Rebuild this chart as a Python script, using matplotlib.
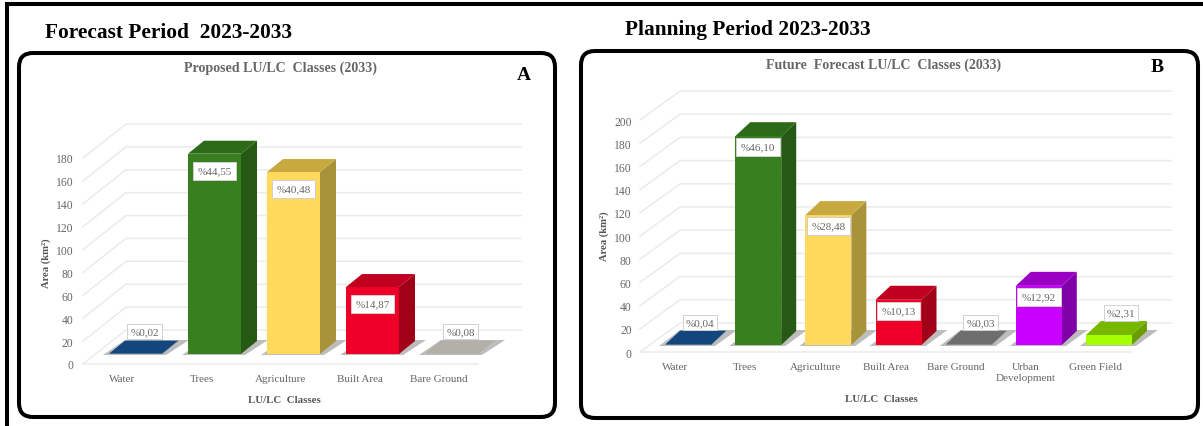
import matplotlib
matplotlib.use('Agg')
import matplotlib.pyplot as plt
from matplotlib.patches import FancyBboxPatch, Polygon

plt.rcParams['font.family'] = ['Liberation Serif', 'DejaVu Serif']

W, H = 1203, 427

# chart A
a_classes = ['Water', 'Trees', 'Agriculture', 'Built Area', 'Bare Ground']
a_area = [0.3, 175, 159, 58.5, 0.4]
a_share = ['%0,02', '%44,55', '%40,48', '%14,87', '%0,08']
a_ticks = [0, 20, 40, 60, 80, 100, 120, 140, 160, 180]

# chart B
b_classes = ['Water', 'Trees', 'Agriculture', 'Built Area', 'Bare Ground',
             'Urban\nDevelopment', 'Green Field']
b_area = [0.3, 180, 112, 39, 0.3, 51, 8.6]
b_share = ['%0,04', '%46,10', '%28,48', '%10,13', '%0,03', '%12,92', '%2,31']
b_ticks = [0, 20, 40, 60, 80, 100, 120, 140, 160, 180, 200]

# (front, top, side)
BLUE = ('#174c86', '#14467e', '#103a68')
GREEN = ('#38801f', '#2c6a18', '#265a14')
YELLOW = ('#ffd95c', '#c8a93f', '#a8933b')
RED = ('#ee0028', '#c0001f', '#a00018')
LIGHT_GREY = ('#b8b5ae', '#b3b0a8', '#a09d96')
DARK_GREY = ('#7a7a7a', '#6e6e6e', '#5c5c5c')
PURPLE = ('#c800ff', '#9a00c4', '#8000a8')
LIME = ('#a6ff00', '#76b800', '#6a9e00')
a_colors = [BLUE, GREEN, YELLOW, RED, LIGHT_GREY]
b_colors = [BLUE, GREEN, YELLOW, RED, DARK_GREY, PURPLE, LIME]


def px_axes(fig, x0, x1, y_bottom, y_top):
    return fig.add_axes([x0 / W, 1 - y_bottom / H, (x1 - x0) / W, (y_bottom - y_top) / H])


def draw_chart(fig, box, classes, area, share, colors, ticks, geo):
    x0, x1, y0, ytop = box
    ax = px_axes(fig, x0, x1, y0, ytop)
    ax.set_xlim(-0.5, len(classes) - 0.5)
    ax.set_ylim(0, ticks[-1])
    ax.patch.set_alpha(0)
    for s in ax.spines.values():
        s.set_visible(False)

    # pixel -> data sizes
    ux = len(classes) / (x1 - x0)
    uy = ticks[-1] / (y0 - ytop)

    wall_x, wall_y = geo['wall'][0] * ux, geo['wall'][1] * uy
    for t in ticks:
        ax.plot([-0.5, -0.5 + wall_x, len(classes) - 0.5 + wall_x],
                [t, t + wall_y, t + wall_y], color='#ebebeb', lw=1.1,
                clip_on=False, zorder=1)
    ax.plot([-0.5, len(classes) - 0.5], [0, 0], color='#ebebeb', lw=1.1,
            clip_on=False, zorder=1)

    sx, lift = geo['shift'][0] * ux, geo['shift'][1] * uy
    hw = geo['bar'] / 2 * ux
    dx, dy = geo['depth'][0] * ux, geo['depth'][1] * uy
    centers = [i + sx for i in range(len(classes))]

    for c, v, col, lab in zip(centers, area, colors, share):
        top = lift + v
        # floor shadow
        ax.add_patch(Polygon([(c - hw - 6 * ux, lift - 1 * uy), (c + hw + 4 * ux, lift - 1 * uy),
                              (c + hw + dx + 11 * ux, lift + dy + 1 * uy),
                              (c - hw + dx, lift + dy + 1 * uy)],
                             fc='#adadad', ec='none', alpha=0.8, clip_on=False, zorder=2))
        ax.bar(c, v, width=2 * hw, bottom=lift, color=col[0], zorder=4, clip_on=False)
        ax.add_patch(Polygon([(c - hw, top), (c + hw, top), (c + hw + dx, top + dy),
                              (c - hw + dx, top + dy)], fc=col[1], ec='none',
                             clip_on=False, zorder=4))
        ax.add_patch(Polygon([(c + hw, lift), (c + hw + dx, lift + dy), (c + hw + dx, top + dy),
                              (c + hw, top)], fc=col[2], ec='none', clip_on=False, zorder=3))
        if v > 20:
            lx, ly = c, top - geo['inside'] * uy
        else:
            lx, ly = c + geo['flat'] * ux, top + 22 * uy
        pad = 0.42 if v > 20 else 0.28
        ax.text(lx, ly, lab, ha='center', va='center', fontsize=8, color='#666666',
                zorder=6, bbox=dict(boxstyle='square,pad=%s' % pad, fc='white',
                                    ec='#d0d0d0', lw=0.7))

    ax.set_xticks(range(len(classes)))
    ax.set_xticklabels(classes, fontsize=8, color='#666666', linespacing=1.3)
    ax.set_yticks(ticks)
    ax.set_yticklabels([str(t) for t in ticks], fontsize=8.4, color='#666666')
    ax.tick_params(length=0, pad=geo['pad'])
    ax.tick_params(axis='x', pad=geo['xpad'])
    return ax


fig = plt.figure(figsize=(W / 100, H / 100), dpi=100, facecolor='white')

# frames and headings live in a full figure axes, in image pixels
bg = fig.add_axes([0, 0, 1, 1])
bg.set_xlim(0, W)
bg.set_ylim(H, 0)
bg.axis('off')
bg.plot([7, 7, W + 2], [H + 2, 5, 5], color='black', lw=2.9, solid_joinstyle='miter')
for (x0, y0, x1, y1) in [(19, 54, 555, 418), (581, 52, 1198, 419)]:
    bg.add_patch(FancyBboxPatch((x0 + 14, y0 + 14), x1 - x0 - 28, y1 - y0 - 28,
                                boxstyle='round,pad=14,rounding_size=14',
                                fc='white', ec='black', lw=2.9))

bg.text(45, 33, 'Forecast Period  2023-2033', fontsize=15.4, fontweight='bold', va='center')
bg.text(625, 30, 'Planning Period 2023-2033', fontsize=15.4, fontweight='bold', va='center')
bg.text(281, 68, 'Proposed LU/LC  Classes (2033)', fontsize=10.1, fontweight='bold',
        color='#666666', ha='center', va='center')
bg.text(884, 65, 'Future  Forecast LU/LC  Classes (2033)', fontsize=10, fontweight='bold',
        color='#666666', ha='center', va='center')
bg.text(524, 76, 'A', fontsize=14, fontweight='bold', ha='center', va='center')
bg.text(1157, 67, 'B', fontsize=14, fontweight='bold', ha='center', va='center')
bg.text(46, 263, 'Area (km²)', fontsize=7.7, fontweight='bold', color='#555555',
        rotation=90, ha='center', va='center')
bg.text(604, 236, 'Area (km²)', fontsize=7.7, fontweight='bold', color='#555555',
        rotation=90, ha='center', va='center')
bg.text(284, 401, 'LU/LC  Classes', fontsize=7.8, fontweight='bold', color='#555555',
        ha='center', va='center')
bg.text(881, 400, 'LU/LC  Classes', fontsize=7.8, fontweight='bold', color='#555555',
        ha='center', va='center')

draw_chart(fig, (83, 478, 365, 159), a_classes, a_area, a_share, a_colors, a_ticks,
           dict(wall=(43, 34), shift=(13, 10), bar=53, depth=(16, 13), inside=17,
                flat=9, pad=7, xpad=7))
draw_chart(fig, (640, 1131, 353, 121), b_classes, b_area, b_share, b_colors, b_ticks,
           dict(wall=(40, 29), shift=(13, 7), bar=46, depth=(15, 14), inside=11,
                flat=12, pad=6, xpad=7))

fig.savefig('out.png', dpi=100)
